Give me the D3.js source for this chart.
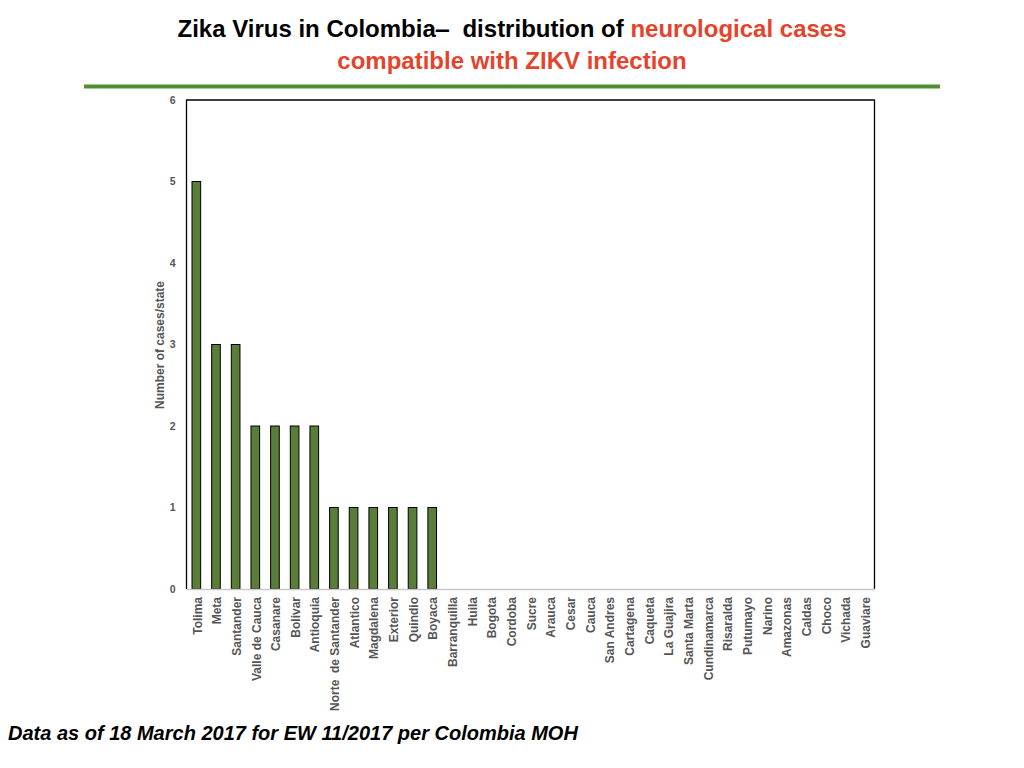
<!DOCTYPE html>
<html>
<head>
<meta charset="utf-8">
<script src="https://cdn.jsdelivr.net/npm/d3@7"></script>
<style>
  body { margin: 0; background: #fff; }
  svg { display: block; font-family: "Liberation Sans", Arial, sans-serif; }
  svg text { white-space: pre; }
  .tick text { fill: #555; font-weight: bold; }
</style>
</head>
<body>
<svg id="chart" width="1024" height="768"></svg>
<script>
// states, in chart order
const states = ["Tolima","Meta","Santander","Valle de Cauca","Casanare","Bolivar","Antioquia",
  "Norte  de Santander","Atlantico","Magdalena","Exterior","Quindio","Boyaca","Barranquilla",
  "Huila","Bogota","Cordoba","Sucre","Arauca","Cesar","Cauca","San Andres","Cartagena",
  "Caqueta","La Guajira","Santa Marta","Cundinamarca","Risaralda","Putumayo","Narino",
  "Amazonas","Caldas","Choco","Vichada","Guaviare"];
// neurological cases per state
const cases = [5,3,3,2,2,2,2,1,1,1,1,1,1,0,0,0,0,0,0,0,0,0,0,0,0,0,0,0,0,0,0,0,0,0,0];
const yTicks = [0,1,2,3,4,5,6];

const svg = d3.select("#chart");
const plot = {left: 186.5, top: 100, right: 874.5, bottom: 589};

// title
const title = svg.append("text")
  .attr("text-anchor", "middle")
  .attr("font-weight", "bold")
  .attr("font-size", 24);
title.append("tspan").attr("x", 512).attr("y", 37)
  .text("Zika Virus in Colombia\u2012  distribution of ");
title.append("tspan").attr("fill", "#e5432c").text("neurological cases");
title.append("tspan").attr("x", 512).attr("y", 69).attr("fill", "#e5432c")
  .text("compatible with ZIKV infection");

svg.append("line")
  .attr("x1", 84).attr("x2", 940).attr("y1", 86.5).attr("y2", 86.5)
  .attr("stroke", "#4d8f31").attr("stroke-width", 4);

const x = d3.scaleBand().domain(states)
  .range([plot.left, plot.right]).paddingInner(0.56).paddingOuter(0.28);
const y = d3.scaleLinear().domain([0, 6]).range([plot.bottom, plot.top]);

// frame: black on left/top/right
svg.append("path")
  .attr("d", `M${plot.left},${plot.bottom}V${plot.top}H${plot.right}V${plot.bottom}`)
  .attr("fill", "none").attr("stroke", "#000").attr("stroke-width", 1.3);

// y axis ticks
const yAxis = svg.append("g")
  .attr("transform", `translate(${plot.left},0)`)
  .call(d3.axisLeft(y).tickValues(yTicks).tickSize(0).tickPadding(11).tickFormat(d3.format("d")));
yAxis.select(".domain").remove();
yAxis.selectAll("text").attr("font-size", 10.5);

svg.append("text")
  .attr("transform", `translate(164,345) rotate(-90)`)
  .attr("text-anchor", "middle")
  .attr("font-size", 12).attr("font-weight", "bold").attr("fill", "#555")
  .text("Number of cases/state");

// bars
svg.append("g").selectAll("rect")
  .data(states)
  .join("rect")
  .attr("x", d => x(d))
  .attr("y", (d, i) => y(cases[i]))
  .attr("width", x.bandwidth())
  .attr("height", (d, i) => y(0) - y(cases[i]))
  .attr("fill", "#5a7d3a")
  .attr("stroke", "#000").attr("stroke-width", 1);

// x axis
const xAxis = svg.append("g")
  .attr("transform", `translate(0,${plot.bottom})`)
  .call(d3.axisBottom(x).tickSize(0).tickPadding(0));
xAxis.select(".domain").attr("stroke", "#c8c8c8").attr("stroke-width", 1.3);
xAxis.selectAll("text")
  .attr("font-size", 12)
  .attr("text-anchor", "end")
  .attr("transform", "rotate(-90)")
  .attr("x", -8).attr("y", 1).attr("dy", "0.35em");

// footnote
svg.append("text")
  .attr("x", 8).attr("y", 740)
  .attr("font-size", 20).attr("font-weight", "bold").attr("font-style", "italic")
  .text("Data as of 18 March 2017 for EW 11/2017 per Colombia MOH");
</script>
</body>
</html>
